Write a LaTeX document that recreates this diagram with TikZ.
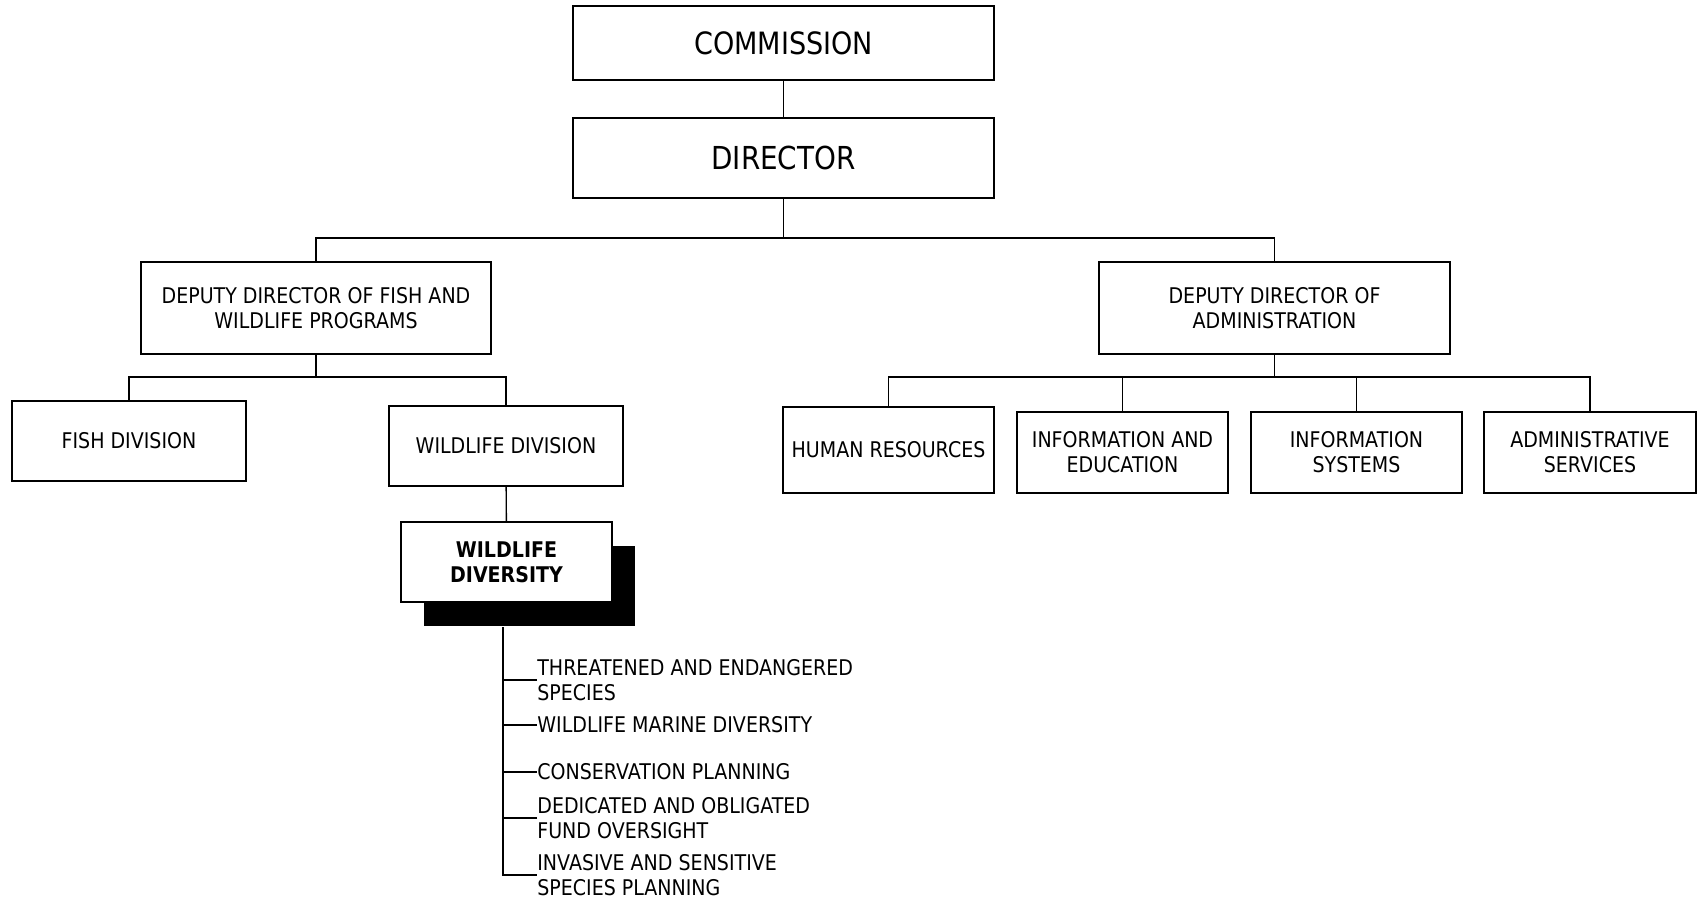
\documentclass[tikz,border=0pt]{standalone}
\usepackage{fontspec}
\setmainfont[FakeStretch=0.88]{DejaVu Sans}
\usetikzlibrary{positioning}
\usetikzlibrary{shadows}

\begin{document}
\begin{tikzpicture}[x=0.02cm, y=-0.02cm,
    box/.style={draw, rectangle, line width=1pt, align=center, inner sep=0pt, font=\fontsize{12.3}{14.2}\selectfont},
    link/.style={line width=0.8pt},
    item/.style={anchor=west, align=left, inner sep=0pt, font=\fontsize{12.3}{14.2}\selectfont}]
    \useasboundingbox (0,0) rectangle (1699,901);

    % Top of the chart
    \node [box, minimum width=8.42cm, minimum height=1.48cm, font=\fontsize{17.5}{20}\selectfont] (commission) at (783.5,43) {COMMISSION};
    \node [box, minimum width=8.42cm, minimum height=1.6cm, font=\fontsize{18}{20}\selectfont] (director) at (783.5,158) {DIRECTOR};

    % Deputy directors
    \node [box, minimum width=7cm, minimum height=1.84cm] (ddfish) at (316,308) {DEPUTY DIRECTOR OF FISH AND\\WILDLIFE PROGRAMS};
    \node [box, minimum width=7.02cm, minimum height=1.84cm] (ddadmin) at (1274.5,308) {DEPUTY DIRECTOR OF\\ADMINISTRATION};

    % Divisions
    \node [box, minimum width=4.68cm, minimum height=1.6cm] (fishdiv) at (129,441) {FISH DIVISION};
    \node [box, minimum width=4.68cm, minimum height=1.6cm] (wilddiv) at (506,446) {WILDLIFE DIVISION};
    \node [box, fill=white, minimum width=4.22cm, minimum height=1.6cm, font=\fontsize{12.3}{14.2}\selectfont\bfseries,
        drop shadow={shadow xshift=0.46cm, shadow yshift=-0.48cm, fill=black, opacity=1}] (diversity) at (506.5,562) {WILDLIFE\\DIVERSITY};

    % Administration units
    \node [box, minimum width=4.22cm, minimum height=1.72cm] (humres) at (888.5,450) {HUMAN RESOURCES};
    \node [box, minimum width=4.22cm, minimum height=1.62cm] (infoedu) at (1122.5,452.5) {INFORMATION AND\\EDUCATION};
    \node [box, minimum width=4.22cm, minimum height=1.62cm] (infosys) at (1356.5,452.5) {INFORMATION\\SYSTEMS};
    \node [box, minimum width=4.24cm, minimum height=1.62cm] (adminserv) at (1590,452.5) {ADMINISTRATIVE\\SERVICES};

    % Wildlife diversity programs
    \node [item] (threat) at (537,680) {THREATENED AND ENDANGERED\\SPECIES};
    \node [item] (marine) at (537,725) {WILDLIFE MARINE DIVERSITY};
    \node [item] (conserv) at (537,772) {CONSERVATION PLANNING};
    \node [item] (fund) at (537,818) {DEDICATED AND OBLIGATED\\FUND OVERSIGHT};
    \node [item] (invasive) at (537,875) {INVASIVE AND SENSITIVE\\SPECIES PLANNING};

    % Bus points
    \coordinate (topbus) at (783.5,238);
    \coordinate (fishbus) at (316,377);
    \coordinate (adminbus) at (1274.5,377);
    \coordinate (listtop) at (503,627);

    % Connections
    \draw [link] (commission) -- (director);
    \draw [link] (director) -- (topbus);
    \draw [link] (ddfish.north) |- (topbus) -| (ddadmin.north);
    \draw [link] (ddfish) -- (fishbus);
    \draw [link] (fishdiv.north) |- (fishbus) -| (wilddiv.north);
    \draw [link] (wilddiv) -- (diversity);
    \draw [link] (ddadmin) -- (adminbus);
    \draw [link] (humres.north) |- (adminbus) -| (adminserv.north);
    \foreach \n in {infoedu, infosys}
        \draw [link] (\n.north) -- (\n.north |- adminbus);

    % List of programs
    \draw [link] (listtop) |- (invasive.west);
    \foreach \n in {threat, marine, conserv, fund}
        \draw [link] (\n.west) -- (\n.west -| listtop);

\end{tikzpicture}
\end{document}
